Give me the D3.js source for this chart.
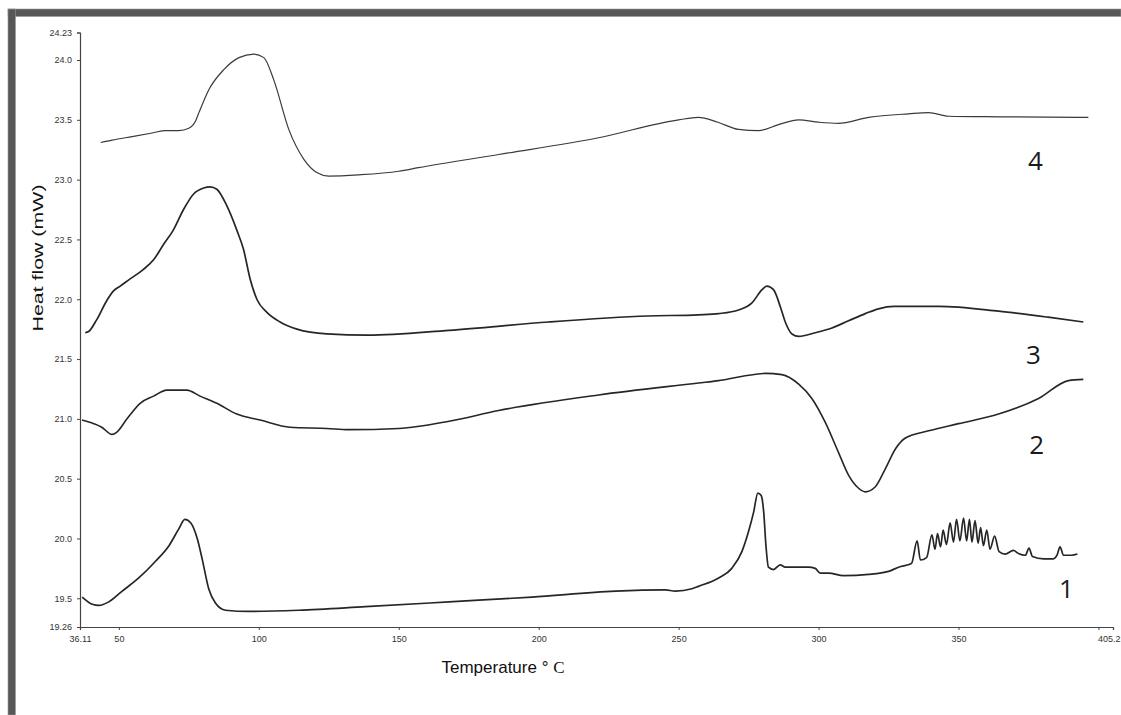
<!DOCTYPE html>
<html>
<head>
<meta charset="utf-8">
<script src="https://cdn.jsdelivr.net/npm/d3@7"></script>
<style>
  html, body { margin: 0; padding: 0; background: #fff; }
  svg { display: block; }
</style>
</head>
<body>
<svg id="chart" width="1121" height="715"></svg>
<script>
// ---- data (temperature °C, heat flow mW) ----
const xTicks = [36.11, 50, 100, 150, 200, 250, 300, 350, 400, 405.2];
const xTickLabels = ["36.11", "50", "100", "150", "200", "250", "300", "350", "", "405.2"];
const yTicks = [24.23, 24.0, 23.5, 23.0, 22.5, 22.0, 21.5, 21.0, 20.5, 20.0, 19.5, 19.26];
const yTickLabels = ["24.23", "24.0", "23.5", "23.0", "22.5", "22.0", "21.5", "21.0", "20.5", "20.0", "19.5", "19.26"];

const curve1 = [[36.9,19.51],[40.5,19.45],[42.9,19.44],[46.4,19.47],[51.2,19.56],[57.1,19.67],[63.1,19.81],[67.9,19.94],[71.4,20.08],[73.6,20.16],[75.7,20.13],[78.0,20.0],[79.75,19.83],[82.1,19.58],[84.5,19.46],[88.1,19.40],[96.4,19.39],[114.3,19.40],[138.1,19.43],[167.9,19.47],[197.6,19.51],[227.4,19.56],[245.2,19.57],[248.8,19.56],[254.75,19.58],[257.1,19.6],[264.3,19.67],[269.0,19.75],[272.6,19.89],[275,20.06],[276.8,20.22],[278.3,20.38],[279.5,20.36],[280.4,20.22],[281.2,19.94],[282.1,19.76],[283.9,19.74],[286.3,19.78],[288.1,19.76],[296.4,19.76],[298.8,19.75],[300.6,19.71],[303.6,19.71],[308.9,19.69],[317.9,19.70],[325,19.725],[328.6,19.76],[333.2,19.79],
  [335.2,19.98],[336.4,19.82],[338.6,19.84],[340.5,20.03],[341.6,19.91],[342.5,20.04],[343.6,19.93],[344.5,20.07],[345.7,19.95],[347.0,20.13],[348.2,19.97],[349.3,20.16],[350.5,19.98],[351.8,20.17],[352.9,19.98],[353.9,20.16],[354.8,19.97],[355.9,20.15],[357.0,19.96],[357.9,20.09],[358.9,19.94],[360.1,20.07],[361.25,19.91],[362.9,20.02],[364.5,19.89],[366.7,19.87],[369.6,19.9],[371.4,19.875],[373.9,19.86],[375.2,19.92],[376.4,19.85],[380.4,19.83],[383.9,19.83],[385.2,19.86],[386.3,19.93],[387.5,19.86],[390.4,19.86],[392.5,19.87]];

const curve2 = [[36.8,20.99],[41.0,20.96],[43.9,20.93],[47.5,20.87],[49.3,20.89],[52.9,21.0],[57.6,21.13],[62.4,21.19],[67.1,21.24],[74.3,21.24],[79.0,21.19],[85.0,21.13],[92.1,21.04],[100.5,20.99],[111.2,20.93],[124.3,20.92],[132,20.91],[150,20.92],[168,20.98],[185.7,21.07],[221.4,21.2],[257.1,21.3],[264.3,21.32],[271.4,21.35],[281.0,21.38],[286.9,21.37],[292.9,21.29],[297.6,21.17],[302.4,20.97],[307.1,20.72],[310.7,20.53],[314.3,20.42],[316.7,20.39],[320.2,20.43],[323.8,20.58],[327.5,20.75],[331,20.84],[339.3,20.9],[350,20.96],[364.3,21.04],[378.6,21.17],[389.3,21.32],[394.6,21.33]];

const curve3 = [[37.96,21.72],[39.2,21.73],[42.1,21.83],[45.7,21.99],[48.1,22.07],[50.5,22.11],[54.0,22.17],[58.8,22.25],[62.4,22.33],[66.0,22.46],[69.5,22.58],[73.1,22.75],[76.7,22.88],[80.3,22.93],[82.6,22.94],[85.0,22.92],[88.6,22.78],[92.1,22.58],[94.5,22.42],[96.9,22.17],[99.3,22.0],[102.9,21.89],[107.6,21.81],[113.6,21.75],[124.3,21.71],[139,21.70],[168,21.74],[203.6,21.81],[239,21.86],[257,21.87],[264.3,21.88],[271.4,21.91],[276.2,21.97],[279.8,22.08],[281.5,22.11],[283.9,22.08],[286.3,21.94],[288.1,21.81],[290.5,21.71],[292.9,21.69],[298.8,21.72],[304.8,21.76],[310.7,21.82],[316.7,21.88],[321.4,21.92],[327,21.94],[342.9,21.94],[364.3,21.9],[382,21.85],[394.6,21.81]];

const curve4 = [[43.5,23.31],[47.6,23.33],[54.75,23.36],[61.9,23.39],[66.7,23.41],[71.4,23.41],[75,23.43],[77.4,23.49],[78.6,23.56],[82.1,23.75],[87.5,23.92],[92.9,24.02],[98.2,24.05],[101.8,24.02],[105.4,23.83],[110.7,23.42],[116.1,23.17],[120.7,23.06],[125,23.03],[135.7,23.04],[150,23.07],[157,23.1],[185.7,23.21],[221.4,23.35],[250,23.5],[257,23.52],[264,23.48],[271.4,23.42],[278.6,23.41],[285.7,23.46],[292.9,23.5],[300,23.48],[307,23.47],[317.9,23.52],[332.1,23.55],[339.3,23.56],[346.4,23.53],[364.3,23.525],[396.4,23.52]];

const curveNames = ["1", "2", "3", "4"];
const curveLabelT = [388.6, 377.9, 376.8, 377.5];
const curveLabelV = [19.5, 20.71, 21.46, 23.08];

// ---- drawing ----
const svg = d3.select("#chart");

// frame (top and left border)
svg.append("rect").attr("x", 8).attr("y", 9).attr("width", 1113).attr("height", 7.5)
  .attr("fill", "#575757").attr("stroke", "#9a9a9a").attr("stroke-width", 0.6);
svg.append("rect").attr("x", 8).attr("y", 9).attr("width", 7.5).attr("height", 706)
  .attr("fill", "#575757").attr("stroke", "#9a9a9a").attr("stroke-width", 0.6);

const x = d3.scaleLinear().domain([36.11, 405.2]).range([80, 1113]);
const y = d3.scaleLinear().domain([19.26, 24.23]).range([627, 32.5]);

// y axis
const yAxis = d3.axisLeft(y).tickValues(yTicks)
  .tickFormat((d, i) => yTickLabels[i]).tickSize(3).tickPadding(5);
const gy = svg.append("g").attr("transform", "translate(80,0)").call(yAxis);
gy.select(".domain").attr("stroke", "#444").attr("stroke-width", 1.2);
gy.selectAll(".tick line").attr("stroke", "#444");
gy.selectAll(".tick text").attr("fill", "#333")
  .style("font-family", "'Liberation Sans', Arial, sans-serif").style("font-size", "9px");

// x axis
const xAxis = d3.axisBottom(x).tickValues(xTicks)
  .tickFormat((d, i) => xTickLabels[i]).tickSize(3).tickPadding(6);
const gx = svg.append("g").attr("transform", "translate(0,627)").call(xAxis);
gx.select(".domain").attr("stroke", "#444").attr("stroke-width", 1.2);
gx.selectAll(".tick line").attr("stroke", "#444");
gx.selectAll(".tick text").attr("fill", "#333")
  .style("font-family", "'Liberation Sans', Arial, sans-serif").style("font-size", "9px");
// keep the last label inside the window
gx.selectAll(".tick text").filter((d, i) => i === xTicks.length - 1)
  .attr("text-anchor", "end").attr("dx", 7);

// curves
const line = d3.line().x(d => x(d[0])).y(d => y(d[1])).curve(d3.curveMonotoneX);
const curves = [curve1, curve2, curve3, curve4];
const widths = [1.7, 1.6, 1.7, 1.2];
const colors = ["#262626", "#262626", "#262626", "#3a3a3a"];
curves.forEach((c, i) => {
  svg.append("path").datum(c).attr("d", line)
    .attr("fill", "none").attr("stroke", colors[i])
    .attr("stroke-width", widths[i]).attr("stroke-linejoin", "round");
});

// curve number labels
curveNames.forEach((n, i) => {
  svg.append("text").attr("x", x(curveLabelT[i])).attr("y", y(curveLabelV[i]))
    .attr("text-anchor", "middle")
    .style("font-family", "'Open Sans', 'Noto Sans', sans-serif")
    .style("font-size", "26px").attr("fill", "#1a1a1a").text(n);
});

// axis titles
svg.append("text").attr("transform", "translate(43,258) rotate(-90)")
  .attr("text-anchor", "middle")
  .attr("textLength", 147).attr("lengthAdjust", "spacingAndGlyphs")
  .style("font-family", "'Liberation Sans', Arial, sans-serif").style("font-size", "14px")
  .attr("fill", "#111").text("Heat flow (mW)");

const xt = svg.append("text").attr("x", 503).attr("y", 673).attr("text-anchor", "middle")
  .style("font-family", "'Liberation Sans', Arial, sans-serif").style("font-size", "17px")
  .attr("fill", "#111");
xt.append("tspan").text("Temperature ° ");
xt.append("tspan").style("font-family", "'Liberation Serif', 'Times New Roman', serif").text("C");
</script>
</body>
</html>
